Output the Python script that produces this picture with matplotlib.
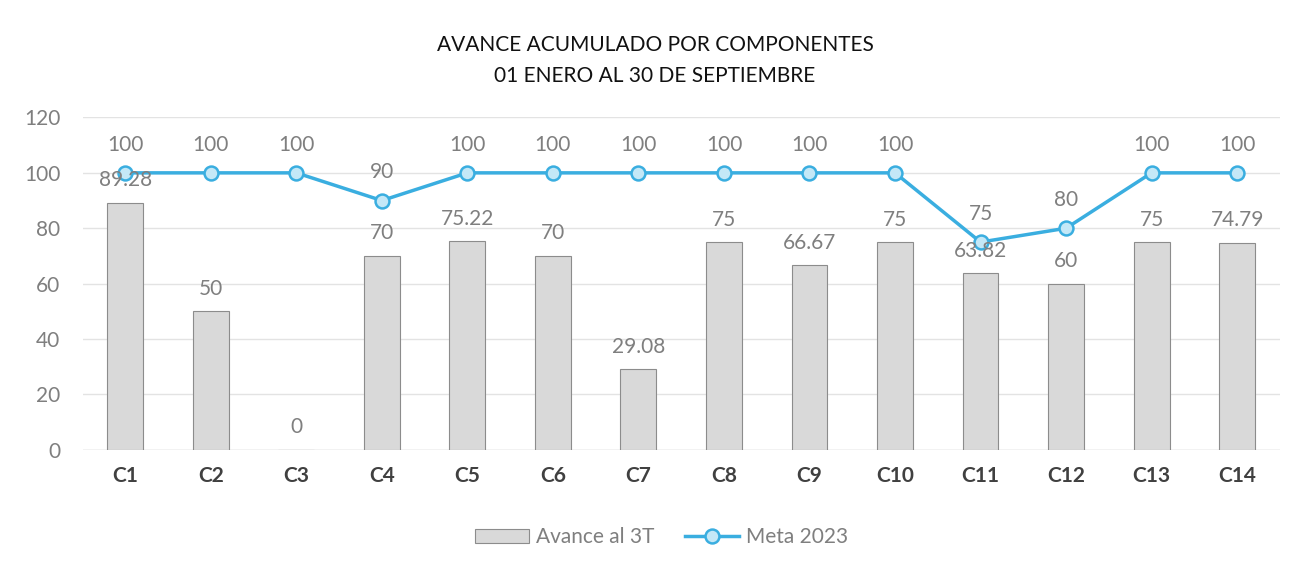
import matplotlib
matplotlib.use("Agg")
import matplotlib.pyplot as plt
import numpy as np

# --- datos ---
componentes = ["C1", "C2", "C3", "C4", "C5", "C6", "C7", "C8", "C9", "C10", "C11", "C12", "C13", "C14"]
avance_3t = [89.28, 50, 0, 70, 75.22, 70, 29.08, 75, 66.67, 75, 63.82, 60, 75, 74.79]
meta_2023 = [100, 100, 100, 90, 100, 100, 100, 100, 100, 100, 75, 80, 100, 100]
avance_labels = ["89.28", "50", "0", "70", "75.22", "70", "29.08", "75", "66.67", "75", "63.82", "60", "75", "74.79"]
meta_labels = [str(v) for v in meta_2023]

plt.rcParams['font.family'] = ['Lato', 'DejaVu Sans']

fig = plt.figure(figsize=(13.1, 5.73), dpi=100)
ax = fig.add_axes([0.063, 0.215, 0.914, 0.58])

x = np.arange(len(componentes))
barras = ax.bar(x, avance_3t, width=0.42, color='#d9d9d9', edgecolor='#8c8c8c',
                linewidth=0.8, zorder=2, label='Avance al 3T')
linea, = ax.plot(x, meta_2023, color='#3aaee0', lw=2.5, marker='o', markersize=10,
                 markerfacecolor='#c4e8f7', markeredgecolor='#3aaee0', markeredgewidth=1.8,
                 zorder=3, label='Meta 2023')

for xi, v, t in zip(x, avance_3t, avance_labels):
    ax.annotate(t, (xi, v), xytext=(0, 9), textcoords='offset points',
                ha='center', va='bottom', fontsize=15, color='#7f7f7f', zorder=4)
for xi, v, t in zip(x, meta_2023, meta_labels):
    ax.annotate(t, (xi, v), xytext=(0, 13), textcoords='offset points',
                ha='center', va='bottom', fontsize=15, color='#7f7f7f', zorder=4)

ax.set_xlim(-0.5, len(componentes) - 0.5)
ax.set_ylim(0, 120)
ax.set_yticks(range(0, 121, 20))
ax.yaxis.grid(True, color='#e3e3e3', lw=1, zorder=0)
ax.set_axisbelow(True)
for s in ax.spines.values():
    s.set_visible(False)
ax.axhline(0, color='#d9d9d9', lw=1, zorder=1)
ax.tick_params(axis='both', length=0)
ax.tick_params(axis='y', labelsize=15, labelcolor='#7f7f7f', pad=16)
ax.set_xticks(x)
ax.set_xticklabels(componentes, fontsize=15, fontweight='bold', color='#404040')
ax.tick_params(axis='x', pad=12)

fig.text(0.5, 0.921, "AVANCE ACUMULADO POR COMPONENTES", ha='center', va='center',
         fontsize=15, color='#111111')
fig.text(0.5, 0.868, "01 ENERO AL 30 DE SEPTIEMBRE", ha='center', va='center',
         fontsize=15, color='#111111')

fig.legend([barras, linea], ['Avance al 3T', 'Meta 2023'], loc='center',
           bbox_to_anchor=(0.505, 0.062), ncol=2, frameon=False,
           fontsize=15, labelcolor='#7f7f7f', handlelength=2.6, columnspacing=1.5,
           handletextpad=0.3)

fig.savefig("out.png", dpi=100, facecolor='white')
